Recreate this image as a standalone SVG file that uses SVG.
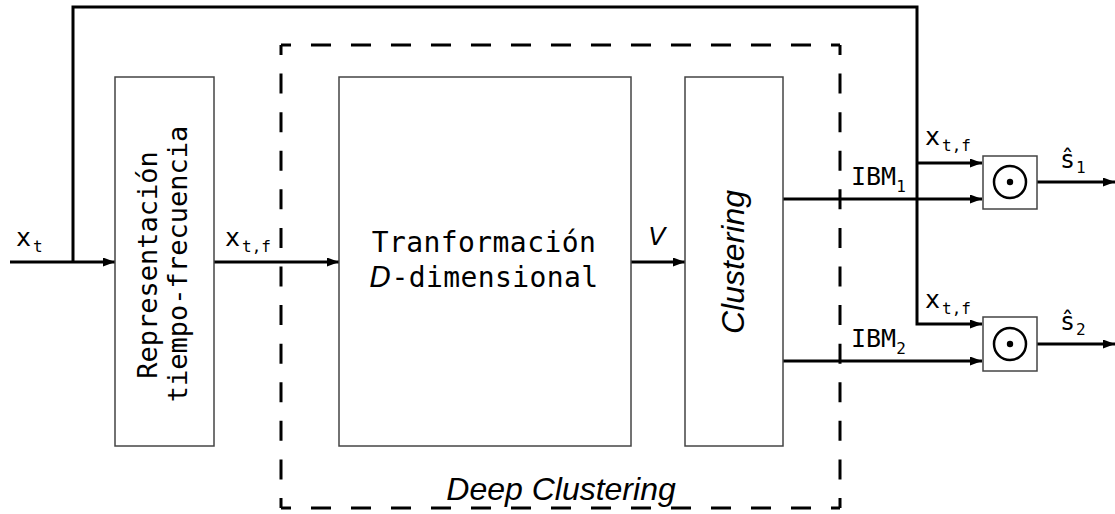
<svg xmlns="http://www.w3.org/2000/svg" width="1115" height="514" viewBox="0 0 1115 514">
<defs>
<marker id="ah" viewBox="0 0 12 9" refX="12" refY="4.5" markerWidth="12" markerHeight="9" markerUnits="userSpaceOnUse" orient="auto"><path d="M0,0 L12,4.5 L0,9 z" fill="#000"/></marker>
</defs>
<style>
.blk{fill:#fff;stroke:#444;stroke-width:1.5}
.c{fill:none;stroke:#000;stroke-width:3}
.a{marker-end:url(#ah)}
.mono{font-family:"DejaVu Sans Mono",monospace;fill:#000}
.lbl{font-size:25px}
.sub{font-size:16px}
.big{font-size:28px;letter-spacing:0.4px}
.rot{font-size:27px}
.it{font-family:"Liberation Sans",Arial,sans-serif;font-style:italic;fill:#000}
.dh{fill:none;stroke:#000;stroke-width:3;stroke-dasharray:20 20;stroke-dashoffset:10}
.dv{fill:none;stroke:#000;stroke-width:3;stroke-dasharray:20 18.58;stroke-dashoffset:10}
.op{fill:none;stroke:#000;stroke-width:2.5}
</style>
<g id="deep-clustering">
<path class="dh" d="M281,45 H840"/>
<path class="dh" d="M281,508 H840"/>
<path class="dv" d="M281,45 V508"/>
<path class="dv" d="M840,45 V508"/>
<text class="it" x="561" y="500" font-size="32" text-anchor="middle">Deep Clustering</text>
</g>
<g id="connectors">
<path class="c a" d="M10,262 H115"/>
<path class="c a" d="M73,262 V7 H917 V324 H982"/>
<path class="c a" d="M917,163 H982"/>
<path class="c a" d="M214,262 H339"/>
<path class="c a" d="M631,262 H685"/>
<path class="c a" d="M783,199 H982"/>
<path class="c a" d="M783,361 H982"/>
<path class="c a" d="M1037,182 H1115"/>
<path class="c a" d="M1037,344 H1115"/>
</g>
<g id="tf-block">
<rect class="blk" x="115" y="77" width="99" height="369"/>
<text class="mono rot" transform="rotate(-90)" x="-265" y="157" text-anchor="middle">Representación</text>
<text class="mono rot" transform="rotate(-90)" x="-264" y="187" text-anchor="middle">tiempo-frecuencia</text>
</g>
<g id="transform-block">
<rect class="blk" x="339" y="77" width="292" height="369"/>
<text class="mono big" x="484" y="252" text-anchor="middle">Tranformación</text>
<text class="mono big" x="484" y="287" text-anchor="middle"><tspan font-family="DejaVu Sans" font-style="italic">D</tspan>-dimensional</text>
</g>
<g id="clustering-block">
<rect class="blk" x="685" y="77" width="98" height="369"/>
<text class="it" transform="rotate(-90)" x="-262" y="744" font-size="32" text-anchor="middle">Clustering</text>
</g>
<g id="mask1">
<rect class="blk" x="983" y="156" width="54" height="53"/>
<circle class="op" cx="1010" cy="182" r="16"/>
<circle cx="1010" cy="182" r="3.2" fill="#000"/>
</g>
<g id="mask2">
<rect class="blk" x="983" y="317" width="54" height="54"/>
<circle class="op" cx="1010" cy="344" r="16"/>
<circle cx="1010" cy="344" r="3.2" fill="#000"/>
</g>
<g id="labels">
<text class="mono lbl" x="16" y="246">x<tspan class="sub" dx="2" dy="6">t</tspan></text>
<text class="mono lbl" x="225" y="246">x<tspan class="sub" dx="2" dy="6">t,f</tspan></text>
<text class="lbl" x="657" y="245" font-family="DejaVu Sans" font-style="italic" text-anchor="middle">V</text>
<text class="mono lbl" x="925" y="145">x<tspan class="sub" dx="2" dy="6">t,f</tspan></text>
<text class="mono lbl" x="925" y="308">x<tspan class="sub" dx="2" dy="6">t,f</tspan></text>
<text class="mono lbl" x="851" y="185">IBM<tspan class="sub" dy="7">1</tspan></text>
<text class="mono lbl" x="851" y="347">IBM<tspan class="sub" dy="7">2</tspan></text>
<text class="mono lbl" x="1060" y="168">ŝ<tspan class="sub" dx="1" dy="5">1</tspan></text>
<text class="mono lbl" x="1060" y="330">ŝ<tspan class="sub" dx="1" dy="5">2</tspan></text>
</g>
</svg>
